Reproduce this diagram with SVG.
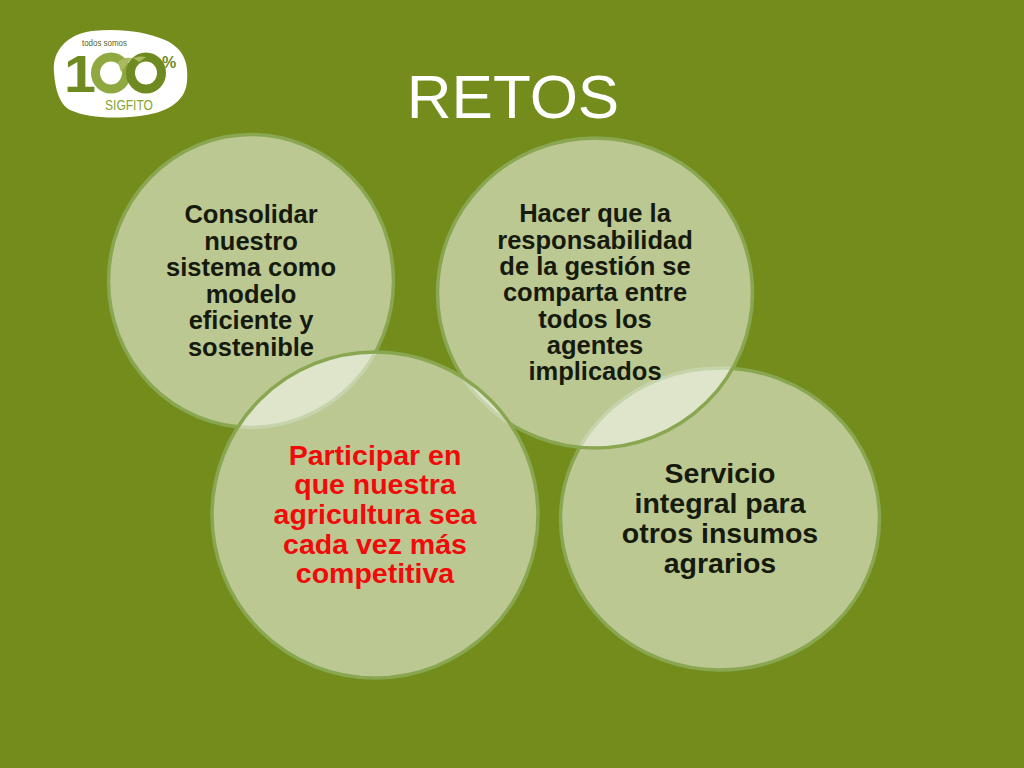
<svg xmlns="http://www.w3.org/2000/svg" width="1024" height="768" viewBox="0 0 1024 768">
<style>
.c{fill:#fff;fill-opacity:.52;stroke:#89a651;stroke-width:3.500}
.t{font-family:"Liberation Sans",Arial,sans-serif;font-weight:700;text-anchor:middle;fill:#161a0c}
.s{font-size:25.500px}
.b{font-size:28.500px}
.r{fill:#f00a0a}
.ti{font-family:"Liberation Sans",Arial,sans-serif;font-size:62px;fill:#fff;text-anchor:middle}
.l{font-family:"Liberation Sans",Arial,sans-serif}
</style>
<rect width="1024" height="768" fill="#738c1c"/>
<g id="logo">
<path d="M54 72C52 50 68 34 92 31C118 28 145 31 165 40C183 48 189 62 187 82C185 103 165 113 140 116C112 119 88 118 70 110C59 104 55 88 54 72Z" fill="#fff"/>
<text class="l" x="82" y="46" font-size="9" fill="#55621f" textLength="45" lengthAdjust="spacingAndGlyphs">todos somos</text>
<text class="l" x="64" y="92" font-size="52" font-weight="700" fill="#6f8a20" textLength="32" lengthAdjust="spacingAndGlyphs">1</text>
<ellipse cx="111" cy="73" rx="15.500" ry="16" fill="none" stroke="#8fa83f" stroke-width="9"/>
<ellipse cx="146" cy="73" rx="15.500" ry="16" fill="none" stroke="#6f8a20" stroke-width="9"/>
<path d="M118 62A15.500 16 0 0 1 139 62L146 57A20 20 0 0 0 130 60L121 72Z" fill="#a8bb5f"/>
<text class="l" x="162" y="68" font-size="16" font-weight="700" fill="#6f8a20">%</text>
<text class="l" x="105" y="110" font-size="15.500" fill="#8aa630" textLength="48" lengthAdjust="spacingAndGlyphs">SIGFITO</text>
</g>
<text id="title" class="ti" x="513" y="118">RETOS</text>
<g id="connectors"></g>
<g id="node-consolidar">
<ellipse class="c" cx="251" cy="281" rx="142.500" ry="146.500"/>
<text class="t s"><tspan x="251" y="223">Consolidar</tspan><tspan x="251" y="249.500">nuestro</tspan><tspan x="251" y="276">sistema como</tspan><tspan x="251" y="302.500">modelo</tspan><tspan x="251" y="329">eficiente y</tspan><tspan x="251" y="355.500">sostenible</tspan></text>
</g>
<g id="node-servicio">
<ellipse class="c" cx="720" cy="519" rx="159.500" ry="151"/>
<text class="t b"><tspan x="720" y="483">Servicio</tspan><tspan x="720" y="513">integral para</tspan><tspan x="720" y="543">otros insumos</tspan><tspan x="720" y="573">agrarios</tspan></text>
</g>
<g id="node-hacer">
<ellipse class="c" cx="595" cy="293" rx="157.500" ry="155"/>
<text class="t s"><tspan x="595" y="222">Hacer que la</tspan><tspan x="595" y="248.500">responsabilidad</tspan><tspan x="595" y="275">de la gestión se</tspan><tspan x="595" y="301">comparta entre</tspan><tspan x="595" y="327.500">todos los</tspan><tspan x="595" y="354">agentes</tspan><tspan x="595" y="380">implicados</tspan></text>
</g>
<g id="node-participar">
<circle class="c" cx="375" cy="515" r="163"/>
<text class="t b r"><tspan x="375" y="465">Participar en</tspan><tspan x="375" y="494">que nuestra</tspan><tspan x="375" y="524">agricultura sea</tspan><tspan x="375" y="553.500">cada vez más</tspan><tspan x="375" y="583">competitiva</tspan></text>
</g>
</svg>
